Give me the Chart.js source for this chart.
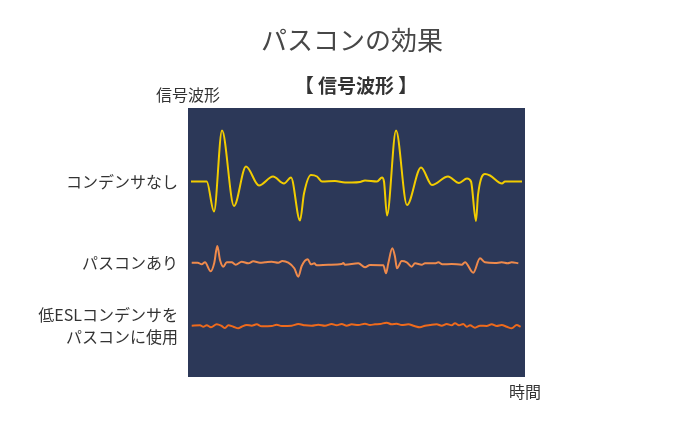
<!DOCTYPE html>
<html>
<head>
<meta charset="utf-8">
<script src="https://cdn.jsdelivr.net/npm/chart.js@4/dist/chart.umd.min.js"></script>
<style>
  html, body { margin: 0; padding: 0; background: #ffffff; }
  #wrap { width: 700px; height: 430px; }
</style>
</head>
<body>
<div id="wrap"><canvas id="c" width="700" height="430"></canvas></div>
<script>
// ---- Data ----
const chartTitle = "パスコンの効果";
const chartSubtitle = "【 信号波形 】";
const yAxisTitle = "信号波形";
const xAxisTitle = "時間";

const rowLabels = [
  "コンデンサなし",
  "パスコンあり",
  ["低ESLコンデンサを", "パスコンに使用"]
];
// vertical position (axis units) of each row's baseline
const rowOffsets = [195.5, 114, 51];

// Series 1: no capacitor
const s1Time = [3, 18.7, 26, 34, 46, 58, 71, 85, 96, 103, 112, 116, 123, 129, 134, 147, 157, 164, 172, 177, 189, 194, 196, 199, 208, 219, 233, 244, 260, 271, 279, 283, 288, 290, 297, 302, 314, 317, 334];
const s1Value = [0, 0, -30, 51, -24.5, 15, -4, 5, -2, 4, -39, -12, 6.5, 5, 0, 0.5, -1, -1, -0.5, 1, 0, 4, 0, -34, 51, -23.5, 14, -3.5, 5, -1.5, 3, 0, -39.5, -13.5, 7.5, 6, -2, 0, 0];

// Series 2: with bypass capacitor
const s2Time = [3.7, 9.7, 13.7, 17, 22.7, 26.3, 29.3, 32, 35.3, 38.7, 43.7, 47.7, 53.7, 60.3, 65.3, 72, 77, 83.7, 90.3, 94.3, 100.3, 106.3, 110.3, 113.7, 119.7, 123, 126.3, 128.7, 140.3, 153.7, 155.3, 157, 170.3, 177, 182, 195.3, 198, 200.3, 204.3, 207, 209, 213.7, 218.7, 223.7, 227, 233.7, 237, 247, 250.3, 254.3, 263.7, 273.7, 277, 285.3, 292, 297, 307, 313.7, 319.7, 323.7, 330.3];
const s2Value = [0.3, 0.3, -1.3, 0.7, -8.3, 0.3, 17, 3, -3.7, 0.7, 0.7, -1.7, 1.3, -0.3, 1.7, 0.3, 0.7, 1.3, 0.3, 2, 0.3, -5.3, -13.7, -3, 3.7, -1.3, -0.3, -2.3, -1.7, -1, 0, -1.7, -0.3, -4.3, -2, -2.3, -10.3, -0.3, 14.7, 6.3, -5.3, 2, 0.7, -3.7, -0.3, -1.7, -0.3, -0.3, 0.7, -1.3, -1, -1.7, 0.7, -9.7, 4.7, 0.7, 0, 0.7, -0.3, 0.7, -0.3];

// Series 3: low-ESL capacitor used as bypass
const s3Time = [3.7, 12, 15.3, 18.7, 23, 28.7, 33.7, 37, 40.3, 45.3, 50.3, 53.7, 58.7, 63.7, 68.7, 73.7, 83.7, 88.7, 93.7, 103.7, 110.3, 117, 123.7, 130.3, 137, 143.7, 148.7, 153.7, 158.7, 163.7, 170.3, 177, 182, 187, 192, 198.7, 203.7, 208.7, 213.7, 220.3, 226.3, 232, 237, 242, 248.7, 253.7, 258.7, 263.7, 267, 271, 275.3, 278.7, 282, 287, 292, 298.7, 303.7, 308.7, 313.7, 318.7, 323.7, 328.7, 332.7];
const s3Value = [0.3, 0.7, -0.7, 0.7, -1.3, 1.7, 0, -2, 0.7, -0.7, -2.3, -0.7, 1, 0.3, 1.7, -0.3, 0, 1.3, 0, 0.3, 2, 0.7, 0.3, 1.3, 0.3, 2, 0.7, 2, 0.3, 1.7, 1, 2.3, 1, 1.7, 2, 3.3, 1.7, 2.3, 1, 1.7, 0, -1.3, 0.3, 1, 1.7, 0.3, 2, 0.7, 2.7, 0.7, 2, -0.7, 0.7, -1.7, 0.3, 0, 1.7, 0, 1, -0.7, -2.3, 1, -0.7];

const seriesColors = ["#f2cc00", "#ef8a4c", "#ee6a1c"];
const timeRange = [0, 337];
const yRange = [0, 269];

// ---- Build datasets ----
function build(times, values, offset) {
  return times.map((t, i) => ({ x: t, y: values[i] + offset }));
}
const datasets = [
  { label: "コンデンサなし", data: build(s1Time, s1Value, rowOffsets[0]), borderColor: seriesColors[0], borderWidth: 2 },
  { label: "パスコンあり", data: build(s2Time, s2Value, rowOffsets[1]), borderColor: seriesColors[1], borderWidth: 2 },
  { label: "低ESLコンデンサをパスコンに使用", data: build(s3Time, s3Value, rowOffsets[2]), borderColor: seriesColors[2], borderWidth: 2 }
].map(d => Object.assign(d, { pointRadius: 0, fill: false, cubicInterpolationMode: 'monotone' }));

const FONT = '"Noto Sans CJK JP", "Noto Sans", sans-serif';

const decor = {
  id: 'decor',
  beforeDraw(chart) {
    const { ctx, chartArea: a } = chart;
    ctx.save();
    ctx.fillStyle = '#2c3858';
    ctx.fillRect(a.left, a.top, a.right - a.left, a.bottom - a.top);
    ctx.restore();
  },
  afterDraw(chart) {
    const { ctx, chartArea: a } = chart;
    ctx.save();
    ctx.textAlign = 'center';
    ctx.textBaseline = 'middle';
    ctx.fillStyle = '#474747';
    ctx.font = '26px ' + FONT;
    ctx.fillText(chartTitle, 352, 40);
    ctx.fillStyle = '#333333';
    ctx.font = 'bold 19px ' + FONT;
    ctx.fillText(chartSubtitle, 356, 86);
    ctx.font = '16px ' + FONT;
    ctx.fillText(yAxisTitle, a.left, 95);
    ctx.fillText(xAxisTitle, a.right, 392);
    ctx.restore();
  }
};

new Chart(document.getElementById('c'), {
  type: 'line',
  data: { datasets },
  options: {
    responsive: false,
    animation: false,
    devicePixelRatio: 1,
    layout: { padding: { top: 108, right: 175, bottom: 53, left: 0 } },
    plugins: { legend: { display: false }, tooltip: { enabled: false }, title: { display: false } },
    scales: {
      x: { type: 'linear', min: timeRange[0], max: timeRange[1], display: false },
      y: {
        type: 'linear', min: yRange[0], max: yRange[1],
        grid: { display: false, drawTicks: false }, border: { display: false },
        afterBuildTicks(scale) { scale.ticks = rowOffsets.map(v => ({ value: v })); },
        afterFit(scale) { scale.width = 188; },
        ticks: {
          autoSkip: false, padding: 10, color: '#333333',
          font: { family: FONT, size: 16, lineHeight: 1.4 },
          callback(value) {
            const i = rowOffsets.indexOf(value);
            return i >= 0 ? rowLabels[i] : '';
          }
        }
      }
    }
  },
  plugins: [decor]
});
</script>
</body>
</html>
